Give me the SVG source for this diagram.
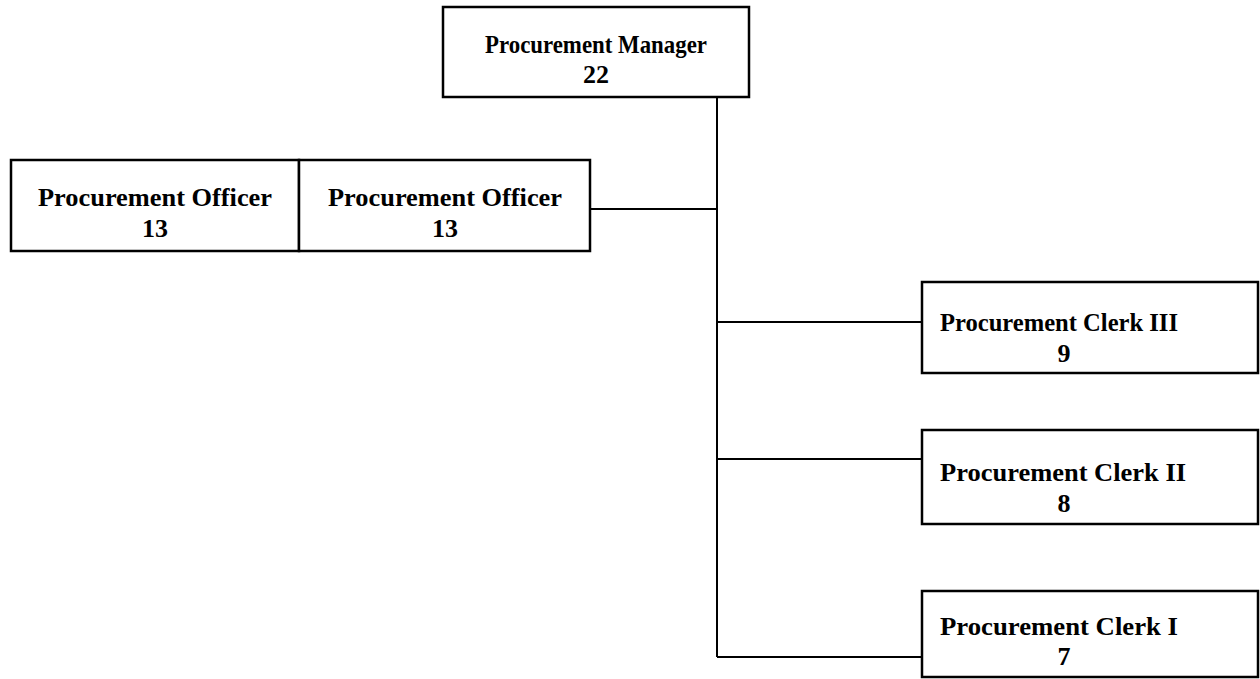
<svg xmlns="http://www.w3.org/2000/svg" width="1260" height="679" viewBox="0 0 1260 679">
  <style>
    .box { fill: #ffffff; stroke: #000000; stroke-width: 2.5; }
    .wire { fill: none; stroke: #000000; stroke-width: 2; }
    .label { font-family: "Liberation Serif", "Times New Roman", serif; font-weight: bold; font-size: 26px; fill: #000000; }
    .mid { text-anchor: middle; }
  </style>
  <rect width="1260" height="679" fill="#ffffff"/>

  <!-- reporting lines -->
  <g id="connectors">
    <path class="wire" d="M717 97 V657"/>
    <path class="wire" d="M590 209 H717"/>
    <path class="wire" d="M717 322 H922"/>
    <path class="wire" d="M717 459 H922"/>
    <path class="wire" d="M717 657 H922"/>
  </g>

  <g id="manager">
    <rect class="box" x="443" y="7" width="306" height="90"/>
    <text class="label mid" x="596" y="53" textLength="222" lengthAdjust="spacingAndGlyphs">Procurement Manager</text>
    <text class="label mid" x="596" y="83">22</text>
  </g>

  <g id="officer-1">
    <rect class="box" x="11" y="160" width="288" height="91"/>
    <text class="label mid" x="155" y="206" textLength="234" lengthAdjust="spacingAndGlyphs">Procurement Officer</text>
    <text class="label mid" x="155" y="237">13</text>
  </g>

  <g id="officer-2">
    <rect class="box" x="299" y="160" width="291" height="91"/>
    <text class="label mid" x="445" y="206" textLength="234" lengthAdjust="spacingAndGlyphs">Procurement Officer</text>
    <text class="label mid" x="445" y="237">13</text>
  </g>

  <g id="clerk-3">
    <rect class="box" x="922" y="282" width="336" height="91"/>
    <text class="label" x="940" y="331" textLength="238" lengthAdjust="spacingAndGlyphs">Procurement Clerk III</text>
    <text class="label mid" x="1064" y="362">9</text>
  </g>

  <g id="clerk-2">
    <rect class="box" x="922" y="430" width="336" height="94"/>
    <text class="label" x="940" y="481" textLength="246" lengthAdjust="spacingAndGlyphs">Procurement Clerk II</text>
    <text class="label mid" x="1064" y="512">8</text>
  </g>

  <g id="clerk-1">
    <rect class="box" x="922" y="591" width="336" height="86"/>
    <text class="label" x="940" y="635" textLength="238" lengthAdjust="spacingAndGlyphs">Procurement Clerk I</text>
    <text class="label mid" x="1064" y="665">7</text>
  </g>
</svg>
